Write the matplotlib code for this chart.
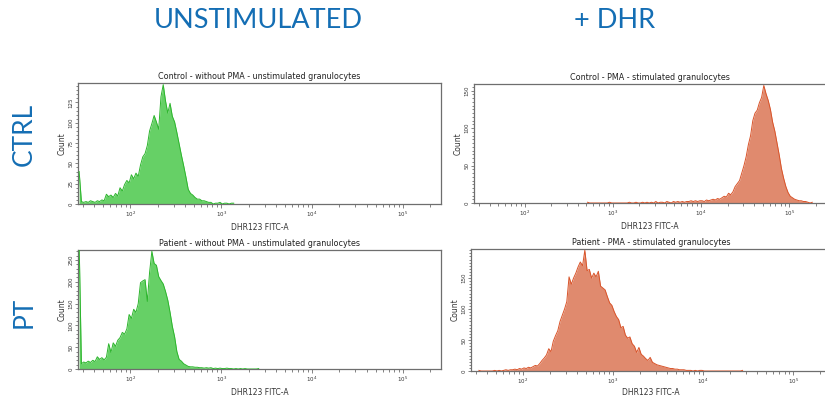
import numpy as np
import matplotlib
matplotlib.use("Agg")
import matplotlib.pyplot as plt
from matplotlib.ticker import FixedLocator, MultipleLocator, LogLocator, NullFormatter

# ---------------- data ----------------
col_headers = ["UNSTIMULATED", "+ DHR"]
row_headers = ["CTRL", "PT"]
titles = ["Control - without PMA - unstimulated granulocytes",
          "Control - PMA - stimulated granulocytes",
          "Patient - without PMA - unstimulated granulocytes",
          "Patient - PMA - stimulated granulocytes"]
x_label = "DHR123 FITC-A"
y_label = "Count"
bin_step = 0.025          # log10 width of one channel

# log10 of first channel edge, and counts per channel
ctrl_unstim_start = 1.425
ctrl_unstim = [40, 3, 2, 3, 2, 4, 3, 2, 4, 3, 5, 4, 12, 9, 11, 8, 13, 10, 20, 16,
               24, 29, 26, 36, 31, 38, 34, 48, 58, 62, 72, 90, 99, 109, 101, 92, 132, 147, 127, 112,
               124, 108, 101, 88, 74, 60, 47, 33, 18, 13, 11, 8, 6, 6, 4, 4, 3, 2, 2, 0,
               1, 1, 2, 0, 1, 1, 0, 1, 1]

ctrl_pma_start = 2.7
ctrl_pma = [1, 0, 0, 0, 0, 0, 0, 0, 0, 0, 1, 0, 0, 0, 0, 0, 0, 0, 0, 1,
            0, 0, 1, 0, 0, 1, 0, 1, 0, 1, 0, 2, 0, 1, 1, 0, 2, 1, 0, 2,
            1, 2, 1, 2, 1, 2, 2, 3, 2, 3, 2, 3, 3, 2, 4, 3, 4, 5, 4, 6,
            5, 7, 9, 8, 13, 11, 15, 22, 26, 30, 40, 50, 62, 78, 90, 110, 120, 124, 134, 141,
            157, 146, 137, 125, 108, 96, 80, 64, 46, 33, 22, 14, 9, 7, 5, 4, 3, 3, 2, 2,
            1, 0, 1]

pt_unstim_start = 1.425
pt_unstim = [290, 12, 16, 14, 18, 15, 20, 17, 28, 22, 26, 21, 27, 58, 38, 60, 52, 66, 72, 84,
             80, 92, 125, 116, 137, 130, 150, 198, 202, 205, 155, 222, 270, 242, 238, 212, 203, 195, 178, 158,
             130, 98, 74, 40, 22, 18, 12, 9, 6, 5, 5, 4, 4, 3, 3, 2, 3, 2, 3, 1,
             2, 1, 2, 1, 1, 2, 1, 1, 0, 1, 0, 1, 0, 1, 0, 0, 0, 0, 0, 1]

pt_pma_start = 1.5
pt_pma = [1, 0, 0, 0, 0, 0, 0, 1, 0, 1, 0, 1, 2, 1, 2, 2, 3, 2, 4, 3,
          5, 4, 6, 5, 7, 9, 8, 12, 17, 21, 26, 36, 31, 48, 57, 65, 80, 90, 100, 112,
          152, 140, 150, 158, 168, 176, 170, 195, 162, 164, 150, 158, 152, 161, 137, 134, 131, 120, 110, 106,
          96, 88, 83, 70, 72, 58, 53, 55, 44, 40, 30, 38, 27, 24, 20, 17, 22, 14, 12, 10,
          9, 8, 7, 6, 5, 4, 4, 3, 3, 2, 2, 2, 1, 1, 1, 0, 1, 0, 1, 1,
          0, 0, 0, 0, 0, 0, 0, 0, 0, 0, 0, 0, 0, 0, 0, 0, 0, 1]

y_limits = [149, 159, 273, 197]
y_major = [25, 50, 50, 50]
y_minor = [5, 5, 10, 5]
x_limits = (10 ** 1.425, 10 ** 5.418)

green_fill, green_edge = "#66D066", "#2DB52D"
orange_fill, orange_edge = "#E08A6E", "#D9542A"
header_blue = "#146EB4"

panels = [
    (ctrl_unstim_start, ctrl_unstim, green_fill, green_edge),
    (ctrl_pma_start, ctrl_pma, orange_fill, orange_edge),
    (pt_unstim_start, pt_unstim, green_fill, green_edge),
    (pt_pma_start, pt_pma, orange_fill, orange_edge),
]

# ---------------- layout ----------------
W, H = 825, 398
fig = plt.figure(figsize=(W / 100, H / 100), dpi=100)

def rect(x0, x1, ytop, ybot):
    return [x0 / W, 1 - ybot / H, (x1 - x0) / W, (ybot - ytop) / H]

axes_rects = [rect(78, 441, 83, 204), rect(474, 826, 84, 203),
              rect(78, 441, 250, 369), rect(471, 831, 249, 371)]

spine_col = "#6E6E6E"
for i, (start, counts, fc, ec) in enumerate(panels):
    ax = fig.add_axes(axes_rects[i])
    counts = np.asarray(counts, dtype=float)
    centers = 10 ** (start + bin_step * (np.arange(len(counts)) + 0.5))
    ax.fill_between(centers, counts, 0, color=fc, lw=0, zorder=2)
    ax.plot(centers, counts, color=ec, lw=0.7, zorder=3)
    ax.set_xscale("log")
    ax.set_xlim(*x_limits)
    ax.set_ylim(0, y_limits[i])
    for s in ax.spines.values():
        s.set_color(spine_col)
        s.set_linewidth(0.9)
    ax.xaxis.set_major_locator(FixedLocator([1e2, 1e3, 1e4, 1e5]))
    ax.xaxis.set_minor_locator(LogLocator(base=10, subs=np.arange(2, 10), numticks=20))
    ax.xaxis.set_minor_formatter(NullFormatter())
    ax.set_xticklabels([r"$10^2$", r"$10^3$", r"$10^4$", r"$10^5$"])
    ax.yaxis.set_major_locator(MultipleLocator(y_major[i]))
    ax.yaxis.set_minor_locator(MultipleLocator(y_minor[i]))
    ax.tick_params(axis="both", which="both", direction="out", colors=spine_col,
                   labelcolor="#333333", width=0.6)
    ax.tick_params(axis="x", which="major", length=3, labelsize=4, pad=1.2)
    ax.tick_params(axis="x", which="minor", length=2.4)
    ax.tick_params(axis="y", which="major", length=2.4, labelsize=4, pad=1)
    ax.tick_params(axis="y", which="minor", length=1.6)
    for lab in ax.get_yticklabels():
        lab.set_rotation(90)
        lab.set_va("center")
    ax.set_xlabel(x_label, fontsize=5.5, color="#333333", labelpad=2.5 if i < 3 else 1.5)
    ax.set_ylabel(y_label, fontsize=5.5, color="#333333", labelpad=1)
    box = dict(facecolor="white", edgecolor="none", pad=0.5) if i == 0 else None
    ax.set_title(titles[i], fontsize=5.8, color="#222222", pad=3, bbox=box)

# headers
hdr = dict(color=header_blue, ha="center", va="center", family="Lato")
fig.text(258 / W, 1 - 21 / H, col_headers[0], fontsize=19.5, **hdr)
fig.text(615 / W, 1 - 21 / H, col_headers[1], fontsize=19.5, **hdr)
fig.text(24 / W, 1 - 134 / H, row_headers[0], fontsize=19, rotation=90, **hdr)
fig.text(24 / W, 1 - 312 / H, row_headers[1], fontsize=19, rotation=90, **hdr)

fig.savefig("out.png", dpi=100)
